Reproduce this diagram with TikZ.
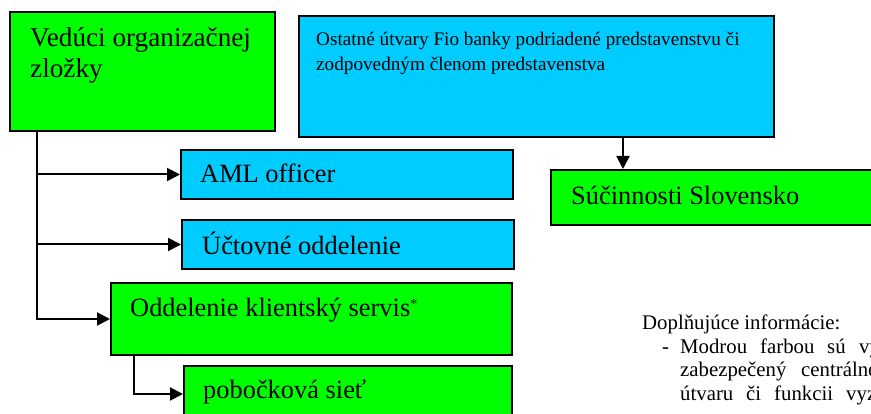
\documentclass[tikz,border=0pt]{standalone}
\usepackage{fontspec}
\setmainfont{Liberation Serif}
\usetikzlibrary{arrows.meta}
\definecolor{boxgreen}{RGB}{0,255,0}
\definecolor{boxblue}{RGB}{0,204,255}
\tikzset{
  box/.style={draw=black, line width=2pt, rectangle, inner sep=0pt, anchor=north west},
  gbox/.style={box, fill=boxgreen},
  bbox/.style={box, fill=boxblue},
  bigtxt/.style={anchor=base west, inner sep=0pt, font=\fontsize{26.4}{31}\selectfont},
  midtxt/.style={anchor=base west, inner sep=0pt, font=\fontsize{19.2}{25}\selectfont},
  notetxt/.style={anchor=base west, inner sep=0pt, font=\fontsize{20.8}{23}\selectfont},
  arr/.style={line width=2pt, -{Triangle[length=13pt,width=13pt]}},
}
\begin{document}
\begin{tikzpicture}[x=1pt,y=-1pt]
\useasboundingbox (0,0) rectangle (871,414);
\clip (0,0) rectangle (871,414);
\fill[white] (0,0) rectangle (871,414);
% boxes
\node[gbox, minimum width=265pt, minimum height=119pt] (ved) at (9,11) {};
\node[bbox, minimum width=475pt, minimum height=121pt] (top) at (298,15) {};
\node[gbox, minimum width=340pt, minimum height=55pt] (suc) at (550,169) {};
\node[bbox, minimum width=332pt, minimum height=49pt] (aml) at (180,149) {};
\node[bbox, minimum width=332pt, minimum height=49pt] (uct) at (181,219) {};
\node[gbox, minimum width=401pt, minimum height=72pt] (kli) at (110,282) {};
\node[gbox, minimum width=328pt, minimum height=56pt] (pob) at (183,365) {};
% texts
\node[bigtxt, font=\fontsize{27.2}{31}\selectfont] (vedt1) at (30,47) {Vedúci organizačnej};
\node[bigtxt, font=\fontsize{27.2}{31}\selectfont] (vedt2) at (30,78) {zložky};
\node[midtxt] (topt1) at (316,46) {Ostatné útvary Fio banky podriadené predstavenstvu či};
\node[midtxt] (topt2) at (316,71) {zodpovedným členom predstavenstva};
\node[bigtxt] (suct) at (571,205) {Súčinnosti Slovensko};
\node[bigtxt] (amlt) at (200,183) {AML officer};
\node[bigtxt] (uctt) at (202,255) {Účtovné oddelenie};
\node[bigtxt] (klit) at (130,317) {Oddelenie klientský servis\raisebox{9pt}{\fontsize{14}{14}\selectfont *}};
\node[bigtxt] (pobt) at (203,399) {pobočková sieť};
% connectors
\coordinate (tr) at (37,0);
\coordinate (tr2) at (134,0);
\coordinate (tr3) at (623,0);
\draw[arr] (ved.south -| tr) |- (aml.west);
\draw[arr] (ved.south -| tr) |- (uct.west);
\draw[arr] (ved.south -| tr) |- (kli.west);
\draw[arr] (kli.south -| tr2) |- (pob.west);
\draw[arr] (top.south -| tr3) -- (suc.north -| tr3);
% note
\node[notetxt] (n0) at (642,330) {Doplňujúce informácie:};
\node[notetxt] (n1d) at (662,354) {-};
\node[notetxt] (n1a) at (680,354) {Modrou};
\node[notetxt] (n1b) at (760,354) {farbou};
\node[notetxt] (n1c) at (827,354) {sú};
\node[notetxt] (n1e) at (859,354) {vyznačené};
\node[notetxt] (n2a) at (680,377) {zabezpečený};
\node[notetxt] (n2b) at (801,377) {centrálne};
\node[notetxt] (n3a) at (680,400) {útvaru};
\node[notetxt] (n3b) at (746,400) {či};
\node[notetxt] (n3c) at (774,400) {funkcii};
\node[notetxt] (n3d) at (846,400) {vyznačenej};
\end{tikzpicture}
\end{document}
